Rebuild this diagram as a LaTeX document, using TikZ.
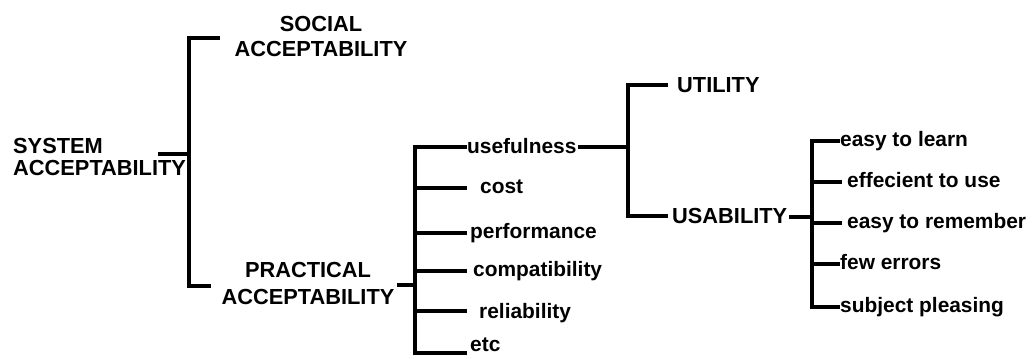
\documentclass[tikz,border=0pt]{standalone}
\usepackage{fontspec}
\setmainfont{Liberation Sans}
\begin{document}
\begin{tikzpicture}[x=1pt,y=-1pt,
  lbl/.style={inner sep=0pt, anchor=base west, font=\fontsize{20.9}{24}\selectfont\bfseries},
  caplbl/.style={lbl, font=\fontsize{21.8}{25}\selectfont\bfseries},
  caplblc/.style={caplbl, anchor=base},
  br/.style={line width=3.4pt, line join=miter, line cap=butt}]
\useasboundingbox (0,0) rectangle (1030,356);
\clip (0,0) rectangle (1030,356);
% text nodes
\node[caplbl] (sys1) at (13,153) {SYSTEM};
\node[caplbl] (sys2) at (13,175) {ACCEPTABILITY};
\node[caplblc] (soc1) at (321,31) {SOCIAL};
\node[caplblc] (soc2) at (321,56) {ACCEPTABILITY};
\node[caplblc] (pra1) at (308,277) {PRACTICAL};
\node[caplblc] (pra2) at (308,304) {ACCEPTABILITY};
\node[lbl] (use) at (467,153) {usefulness};
\node[lbl] (cost) at (480,193) {cost};
\node[lbl] (perf) at (470,238) {performance};
\node[lbl] (comp) at (473,276) {compatibility};
\node[lbl] (rel) at (479,318) {reliability};
\node[lbl] (etc) at (470,351) {etc};
\node[caplbl] (util) at (677,92) {UTILITY};
\node[caplbl] (usab) at (672,223) {USABILITY};
\node[lbl] (l1) at (840,146) {easy to learn};
\node[lbl] (l2) at (847,187) {effecient to use};
\node[lbl] (l3) at (847,228) {easy to remember};
\node[lbl] (l4) at (840,269) {few errors};
\node[lbl] (l5) at (840,312) {subject pleasing};
% joints
\coordinate (s0) at (158,154);
\coordinate (sA) at (189,154);
\coordinate (sT) at (189,38);
\coordinate (sB) at (189,286);
\coordinate (socE) at (220,38);
\coordinate (praE) at (211,286);
\coordinate (p0) at (397,285);
\coordinate (pA) at (415,285);
\coordinate (pT) at (415,147);
\coordinate (pB) at (415,353);
\coordinate (u0) at (578,147);
\coordinate (uA) at (628,147);
\coordinate (uT) at (628,85);
\coordinate (uB) at (628,216);
\coordinate (b0) at (789,217);
\coordinate (bA) at (812,217);
\coordinate (bT) at (812,141);
\coordinate (bB) at (812,307);
% brackets
\draw[br] (s0) -- (sA);
\draw[br] (socE) -- (sT) -- (sB) -- (praE);
\draw[br] (p0) -- (pA);
\draw[br] (467,147) -- (pT) -- (pB) -- (467,353);
\foreach \yy in {188,233,271,311} \draw[br] (415,\yy) -- (467,\yy);
\draw[br] (u0) -- (uA);
\draw[br] (668,85) -- (uT) -- (uB) -- (668,216);
\draw[br] (b0) -- (bA);
\draw[br] (840,141) -- (bT) -- (bB) -- (840,307);
\draw[br] (812,182) -- (842,182);
\draw[br] (812,223) -- (842,223);
\draw[br] (812,264) -- (840,264);
\end{tikzpicture}
\end{document}
